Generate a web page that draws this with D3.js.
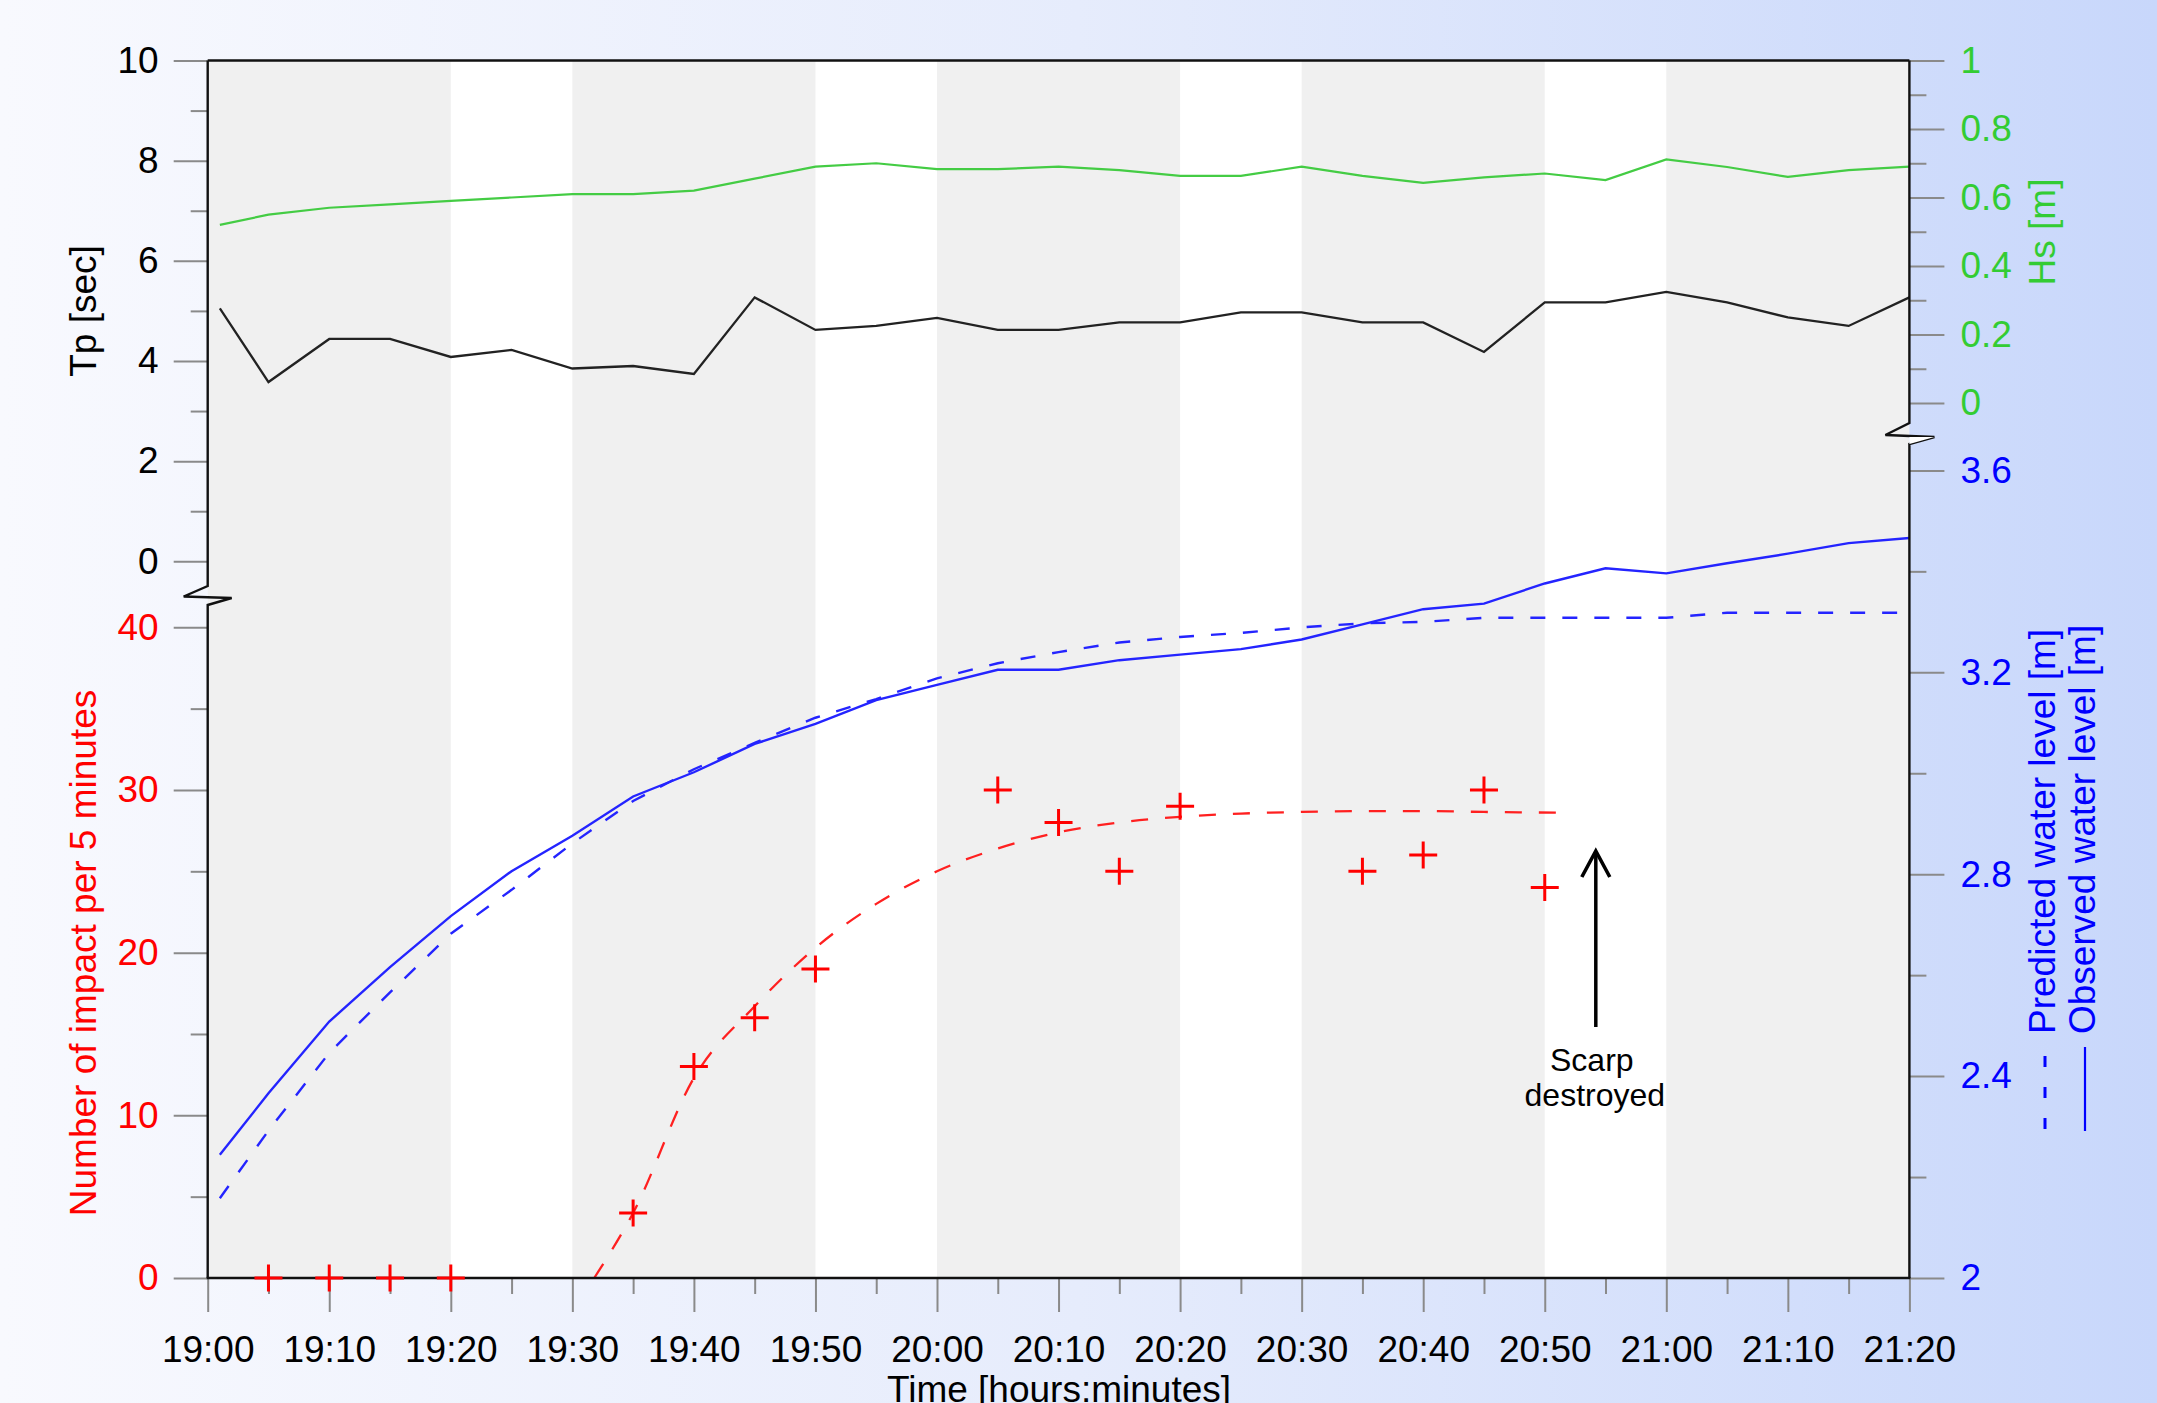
<!DOCTYPE html>
<html><head><meta charset="utf-8">
<script src="https://cdn.jsdelivr.net/npm/d3@7"></script>
<style>
html,body{margin:0;padding:0;overflow:hidden;background:#fff;}
svg{display:block;}
text{font-family:"Liberation Sans",Arial,Helvetica,sans-serif;}
</style>
</head><body>
<script>
// ---------------- DATA ----------------
const timeTickMinutes = [0,10,20,30,40,50,60,70,80,90,100,110,120,130,140];
const timeTickLabels = ["19:00","19:10","19:20","19:30","19:40","19:50","20:00","20:10","20:20","20:30","20:40","20:50","21:00","21:10","21:20"];
const timeMinorMinutes = [5,15,25,35,45,55,65,75,85,95,105,115,125,135];
const whiteBands = [[20,30],[50,60],[80,90],[110,120]];

const minutes = [1,5,10,15,20,25,30,35,40,45,50,55,60,65,70,75,80,85,90,95,100,105,110,115,120,125,130,135,140];
const tp = [5.05,3.58,4.44,4.44,4.08,4.22,3.85,3.9,3.74,5.27,4.62,4.7,4.86,4.62,4.62,4.77,4.77,4.97,4.97,4.77,4.77,4.18,5.17,5.17,5.38,5.17,4.87,4.7,5.27];
const hs = [0.52,0.55,0.57,0.58,0.59,0.6,0.61,0.61,0.62,0.655,0.69,0.7,0.683,0.683,0.69,0.68,0.663,0.663,0.69,0.663,0.643,0.659,0.67,0.651,0.711,0.689,0.66,0.68,0.69];
const observed = [2.244,2.366,2.508,2.616,2.717,2.806,2.876,2.954,3.002,3.058,3.098,3.145,3.175,3.205,3.205,3.224,3.235,3.246,3.265,3.295,3.325,3.336,3.376,3.406,3.396,3.416,3.435,3.456,3.466];
const predicted = [2.158,2.292,2.446,2.566,2.682,2.769,2.861,2.945,3.008,3.06,3.11,3.147,3.188,3.218,3.24,3.259,3.27,3.278,3.289,3.297,3.3,3.308,3.308,3.308,3.308,3.318,3.318,3.318,3.318];

const impactMinutes = [5,10,15,20,35,40,45,50,65,70,75,80,95,100,105,110];
const impacts = [0,0,0,0,4,13,16,19,30,28,25,29,25,26,30,24];

const fitMinutes = [31.8,35,40,45,50,55,60,65,70,75,80,85,90,95,100,105,111.7];
const fitValues = [0,4.0,12.3,16.7,20.3,23.0,25.0,26.4,27.4,28.0,28.35,28.55,28.65,28.7,28.7,28.65,28.6];

const scarpMinute = 114.2;

const tpMajor = [0,2,4,6,8,10], tpMinor = [1,3,5,7,9];
const nMajor = [0,10,20,30,40], nMinor = [5,15,25,35];
const hsMajor = [0,0.2,0.4,0.6,0.8,1], hsMinor = [0.1,0.3,0.5,0.7,0.9];
const wlMajor = [2,2.4,2.8,3.2,3.6], wlMinor = [2.2,2.6,3.0,3.4];

// ---------------- LAYOUT ----------------
const W = 2157, H = 1403;
const L = 207.7, R = 1909.4, T = 60.5, B = 1278;
const FS = 37;
const GREEN = "#33cc33", GREEN_LINE = "#44cc44", RED = "#ff0000", BLUE = "#0000ff", BLUE_LINE = "#2424ff";

const x = d3.scaleLinear().domain([0,140]).range([L,R]);
const yTp = d3.scaleLinear().domain([0,10]).range([561.3,T]);
const yN = d3.scaleLinear().domain([0,40]).range([B,627.3]);
const yHs = d3.scaleLinear().domain([0,1]).range([403,T]);
const yWL = d3.scaleLinear().domain([2,3.6]).range([B,470.4]);

const svg = d3.select("body").append("svg").attr("width",W).attr("height",H);
const defs = svg.append("defs");
const grad = defs.append("linearGradient").attr("id","bg").attr("x1","0").attr("y1","0").attr("x2","1").attr("y2","0");
grad.append("stop").attr("offset","0").attr("stop-color","#f8f9fe");
grad.append("stop").attr("offset","0.5").attr("stop-color","#e6ecfc");
grad.append("stop").attr("offset","1").attr("stop-color","#c8d7fb");
svg.append("rect").attr("width",W).attr("height",H).attr("fill","url(#bg)");

// plot background bands
svg.append("rect").attr("x",L).attr("y",T).attr("width",R-L).attr("height",B-T).attr("fill","#f0f0f0");
svg.selectAll("rect.band").data(whiteBands).enter().append("rect")
  .attr("class","band").attr("x",d=>x(d[0])).attr("y",T).attr("width",d=>x(d[1])-x(d[0])).attr("height",B-T).attr("fill","#ffffff");

// ---------------- AXES ----------------
function styleAxis(g, color){
  g.select(".domain").remove();
  g.selectAll(".tick line").attr("stroke","#8a8a8a").attr("stroke-width",2);
  g.selectAll(".tick text").attr("fill",color).attr("font-size",FS);
}
const fmt = d=>String(d);
styleAxis(svg.append("g").attr("transform",`translate(${L},0)`).call(d3.axisLeft(yTp).tickValues(tpMajor).tickFormat(fmt).tickSize(34).tickPadding(15)),"#000");
styleAxis(svg.append("g").attr("transform",`translate(${L},0)`).call(d3.axisLeft(yTp).tickValues(tpMinor).tickFormat("").tickSize(17)),"#000");
styleAxis(svg.append("g").attr("transform",`translate(${L},0)`).call(d3.axisLeft(yN).tickValues(nMajor).tickFormat(fmt).tickSize(34).tickPadding(15)),RED);
styleAxis(svg.append("g").attr("transform",`translate(${L},0)`).call(d3.axisLeft(yN).tickValues(nMinor).tickFormat("").tickSize(17)),RED);
styleAxis(svg.append("g").attr("transform",`translate(${R},0)`).call(d3.axisRight(yHs).tickValues(hsMajor).tickFormat(fmt).tickSize(35).tickPadding(16)),GREEN);
styleAxis(svg.append("g").attr("transform",`translate(${R},0)`).call(d3.axisRight(yHs).tickValues(hsMinor).tickFormat("").tickSize(17)),GREEN);
styleAxis(svg.append("g").attr("transform",`translate(${R},0)`).call(d3.axisRight(yWL).tickValues(wlMajor).tickFormat(fmt).tickSize(35).tickPadding(16)),BLUE);
styleAxis(svg.append("g").attr("transform",`translate(${R},0)`).call(d3.axisRight(yWL).tickValues(wlMinor).tickFormat("").tickSize(17)),BLUE);
styleAxis(svg.append("g").attr("transform",`translate(0,${B})`).call(d3.axisBottom(x).tickValues(timeTickMinutes).tickFormat((d,i)=>timeTickLabels[i]).tickSize(34).tickPadding(24)),"#000");
styleAxis(svg.append("g").attr("transform",`translate(0,${B})`).call(d3.axisBottom(x).tickValues(timeMinorMinutes).tickFormat("").tickSize(16)),"#000");

// ---------------- DATA LINES ----------------
const g = svg.append("g");
const lineTp = d3.line().x((d,i)=>x(minutes[i])).y(d=>yTp(d));
const lineHs = d3.line().x((d,i)=>x(minutes[i])).y(d=>yHs(d));
const lineWL = d3.line().x((d,i)=>x(minutes[i])).y(d=>yWL(d));
g.append("path").attr("d",lineHs(hs)).attr("fill","none").attr("stroke",GREEN_LINE).attr("stroke-width",2.2);
g.append("path").attr("d",lineTp(tp)).attr("fill","none").attr("stroke","#222").attr("stroke-width",2.3);
g.append("path").attr("d",lineWL(predicted)).attr("fill","none").attr("stroke",BLUE_LINE).attr("stroke-width",2.4).attr("stroke-dasharray","15,17");
g.append("path").attr("d",lineWL(observed)).attr("fill","none").attr("stroke",BLUE_LINE).attr("stroke-width",2.4);
const lineFit = d3.line().x((d,i)=>x(fitMinutes[i])).y(d=>yN(d)).curve(d3.curveMonotoneX);
g.append("path").attr("d",lineFit(fitValues)).attr("fill","none").attr("stroke","#ff2020").attr("stroke-width",2.3).attr("stroke-dasharray","17,17");

// ---------------- SPINES ----------------
const sp = svg.append("g").attr("stroke","#111").attr("stroke-width",2.4).attr("fill","none");
sp.append("path").attr("d",`M${L},${T}H${R}`);
sp.append("path").attr("d",`M${L-1},${B}H${R+1}`);
sp.append("path").attr("d",`M${L},${T}V586L${L-24},596.5L${L+24},598L${L},605V${B}`);
svg.append("path").attr("d",`M${R},437L${R+25},437L${R},444Z`).attr("fill","#fff");
sp.append("path").attr("d",`M${R},${T}V423L${R-24},435L${R+25},437L${R},444V${B}`);

// ---------------- MARKERS ----------------
const mk = svg.append("g").attr("stroke",RED).attr("stroke-width",3);
impacts.forEach((v,i)=>{
  const cx = x(impactMinutes[i]), cy = yN(v);
  mk.append("path").attr("d",`M${cx-14},${cy}H${cx+14}M${cx},${cy-13.5}V${cy+13.5}`);
});

// ---------------- ANNOTATION ----------------
const ax = x(scarpMinute);
svg.append("line").attr("x1",ax).attr("x2",ax).attr("y1",1027).attr("y2",853).attr("stroke","#000").attr("stroke-width",3.5);
svg.append("path").attr("d",`M${ax-14},877L${ax},851L${ax+14},877`).attr("fill","none").attr("stroke","#000").attr("stroke-width",3.6);
svg.append("text").attr("x",ax-4).attr("y",1071).attr("text-anchor","middle").attr("font-size",32).text("Scarp");
svg.append("text").attr("x",ax-1).attr("y",1106).attr("text-anchor","middle").attr("font-size",32).text("destroyed");

// ---------------- TITLES ----------------
svg.append("text").attr("transform","translate(96,311) rotate(-90)").attr("text-anchor","middle").attr("font-size",FS).attr("fill","#000").text("Tp [sec]");
svg.append("text").attr("transform","translate(96,953) rotate(-90)").attr("text-anchor","middle").attr("font-size",FS).attr("fill",RED).text("Number of impact per 5 minutes");
svg.append("text").attr("transform","translate(2055,232) rotate(-90)").attr("text-anchor","middle").attr("font-size",FS).attr("fill",GREEN).text("Hs [m]");
svg.append("text").attr("transform","translate(2055,1034) rotate(-90)").attr("text-anchor","start").attr("font-size",FS).attr("fill",BLUE).text("Predicted water level [m]");
svg.append("text").attr("transform","translate(2095,1034) rotate(-90)").attr("text-anchor","start").attr("font-size",FS).attr("fill",BLUE).text("Observed water level [m]");
svg.append("line").attr("x1",2045).attr("x2",2045).attr("y1",1129).attr("y2",1049).attr("stroke",BLUE).attr("stroke-width",3).attr("stroke-dasharray","11,20");
svg.append("line").attr("x1",2085).attr("x2",2085).attr("y1",1131).attr("y2",1047).attr("stroke",BLUE).attr("stroke-width",2.2);
svg.append("text").attr("x",1059).attr("y",1402).attr("text-anchor","middle").attr("font-size",FS).attr("fill","#000").text("Time [hours:minutes]");
</script>
</body></html>
